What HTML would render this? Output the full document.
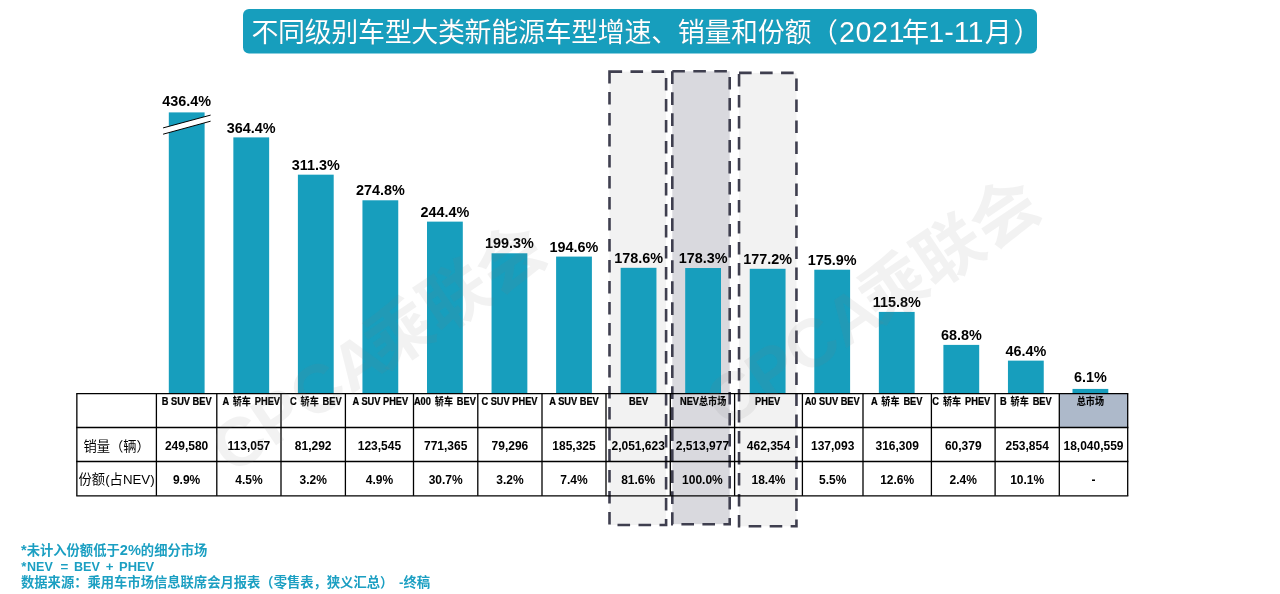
<!DOCTYPE html>
<html lang="zh-CN">
<head>
<meta charset="utf-8">
<title>不同级别车型大类新能源车型增速、销量和份额（2021年1-11月）</title>
<style>
html,body{margin:0;padding:0;background:#fff;}
body{width:1280px;height:594px;overflow:hidden;position:relative;font-family:"Liberation Sans","Noto Sans CJK SC",sans-serif;}
svg{position:absolute;left:0;top:0;display:block;}
.title{font-family:"Liberation Sans","Noto Sans CJK SC",sans-serif;font-size:27px;font-weight:400;fill:#fff;filter:drop-shadow(0.8px 0.8px 0.2px rgba(8,70,90,.6));}
.val{font-family:"Liberation Sans","Noto Sans CJK SC",sans-serif;font-size:14.4px;font-weight:700;fill:#000;text-anchor:middle;}
.hd{font-family:"Liberation Sans","Noto Sans CJK SC",sans-serif;font-size:10.3px;font-weight:700;fill:#000;text-anchor:middle;stroke:#000;stroke-width:0.25px;}
.hc{font-size:10.1px;stroke-width:0.1px;}
.num{font-family:"Liberation Sans","Noto Sans CJK SC",sans-serif;font-size:12px;font-weight:700;fill:#000;text-anchor:middle;}
.rl{font-family:"Liberation Sans","Noto Sans CJK SC",sans-serif;font-size:13.3px;font-weight:400;fill:#000;text-anchor:middle;}
.ft{font-family:"Liberation Sans","Noto Sans CJK SC",sans-serif;font-size:13.3px;font-weight:700;fill:#1B9FC2;}
.wm{font-family:"Liberation Sans","Noto Sans CJK SC",sans-serif;font-size:64px;font-weight:700;fill:#808080;fill-opacity:.1;text-anchor:middle;}
</style>
</head>
<body>
<svg width="1280" height="594" viewBox="0 0 1280 594">

<rect x="243" y="9" width="794" height="44.5" rx="6" ry="6" fill="#179EBD"/>
<text class="title" y="41.5"><tspan x="251.4" style="letter-spacing:-0.35px">不同级别车型大类新能源车型增速、销量和份额（</tspan><tspan x="838.9" style="font-size:28.7px;letter-spacing:0.6px">2021</tspan><tspan x="902.0">年</tspan><tspan x="928.2" style="font-size:28.7px">1-11</tspan><tspan x="984.8">月</tspan><tspan x="1013.5">）</tspan></text>
<rect x="609.50" y="71.60" width="56.60" height="453.40" fill="#F2F2F2" stroke="#3F3F4F" stroke-width="2.6" stroke-dasharray="12.6 8.4"/>
<rect x="672.30" y="71.30" width="57.40" height="452.90" fill="#D9D9DE" stroke="#3F3F4F" stroke-width="2.6" stroke-dasharray="12.6 8.4"/>
<rect x="739.05" y="72.90" width="57.40" height="453.40" fill="#F2F2F2" stroke="#3F3F4F" stroke-width="2.6" stroke-dasharray="12.6 8.4"/>
<rect x="1059.30" y="393.70" width="68.40" height="33.80" fill="#ADB9CA"/>
<rect x="168.80" y="112.40" width="35.80" height="280.80" fill="#179EBD"/>
<text class="val" x="186.70" y="105.80">436.4%</text>
<rect x="233.35" y="137.39" width="35.80" height="255.81" fill="#179EBD"/>
<text class="val" x="251.25" y="132.59">364.4%</text>
<rect x="297.90" y="174.67" width="35.80" height="218.53" fill="#179EBD"/>
<text class="val" x="315.80" y="169.87">311.3%</text>
<rect x="362.45" y="200.29" width="35.80" height="192.91" fill="#179EBD"/>
<text class="val" x="380.35" y="195.49">274.8%</text>
<rect x="427.00" y="221.63" width="35.80" height="171.57" fill="#179EBD"/>
<text class="val" x="444.90" y="216.83">244.4%</text>
<rect x="491.55" y="253.29" width="35.80" height="139.91" fill="#179EBD"/>
<text class="val" x="509.45" y="248.49">199.3%</text>
<rect x="556.10" y="256.59" width="35.80" height="136.61" fill="#179EBD"/>
<text class="val" x="574.00" y="251.79">194.6%</text>
<rect x="620.65" y="267.82" width="35.80" height="125.38" fill="#179EBD"/>
<text class="val" x="638.55" y="263.02">178.6%</text>
<rect x="685.20" y="268.03" width="35.80" height="125.17" fill="#179EBD"/>
<text class="val" x="703.10" y="263.23">178.3%</text>
<rect x="749.75" y="268.81" width="35.80" height="124.39" fill="#179EBD"/>
<text class="val" x="767.65" y="264.01">177.2%</text>
<rect x="814.30" y="269.72" width="35.80" height="123.48" fill="#179EBD"/>
<text class="val" x="832.20" y="264.92">175.9%</text>
<rect x="878.85" y="311.91" width="35.80" height="81.29" fill="#179EBD"/>
<text class="val" x="896.75" y="307.11">115.8%</text>
<rect x="943.40" y="344.90" width="35.80" height="48.30" fill="#179EBD"/>
<text class="val" x="961.30" y="340.10">68.8%</text>
<rect x="1007.95" y="360.63" width="35.80" height="32.57" fill="#179EBD"/>
<text class="val" x="1025.85" y="355.83">46.4%</text>
<rect x="1072.50" y="388.92" width="35.80" height="4.28" fill="#179EBD"/>
<text class="val" x="1090.40" y="381.92">6.1%</text>
<polygon points="163.1,127.9 210.6,115.1 210.6,121.2 163.1,134.2" fill="#fff"/>
<line x1="163.1" y1="127.9" x2="210.6" y2="115.1" stroke="#000" stroke-width="1"/>
<line x1="163.1" y1="134.2" x2="210.6" y2="121.2" stroke="#000" stroke-width="1"/>
<line x1="76.20" y1="393.70" x2="1128.35" y2="393.70" stroke="#000" stroke-width="1.3"/>
<line x1="76.20" y1="427.50" x2="1128.35" y2="427.50" stroke="#000" stroke-width="1.3"/>
<line x1="76.20" y1="461.50" x2="1128.35" y2="461.50" stroke="#000" stroke-width="1.3"/>
<line x1="76.20" y1="495.80" x2="1128.35" y2="495.80" stroke="#000" stroke-width="1.3"/>
<line x1="76.85" y1="393.70" x2="76.85" y2="495.80" stroke="#000" stroke-width="1.3"/>
<line x1="156.40" y1="393.70" x2="156.40" y2="495.80" stroke="#000" stroke-width="1.3"/>
<line x1="216.80" y1="393.70" x2="216.80" y2="495.80" stroke="#000" stroke-width="1.3"/>
<line x1="281.00" y1="393.70" x2="281.00" y2="495.80" stroke="#000" stroke-width="1.3"/>
<line x1="345.40" y1="393.70" x2="345.40" y2="495.80" stroke="#000" stroke-width="1.3"/>
<line x1="413.50" y1="393.70" x2="413.50" y2="495.80" stroke="#000" stroke-width="1.3"/>
<line x1="477.80" y1="393.70" x2="477.80" y2="495.80" stroke="#000" stroke-width="1.3"/>
<line x1="542.00" y1="393.70" x2="542.00" y2="495.80" stroke="#000" stroke-width="1.3"/>
<line x1="606.00" y1="393.70" x2="606.00" y2="495.80" stroke="#000" stroke-width="1.3"/>
<line x1="670.30" y1="393.70" x2="670.30" y2="495.80" stroke="#000" stroke-width="1.3"/>
<line x1="734.60" y1="393.70" x2="734.60" y2="495.80" stroke="#000" stroke-width="1.3"/>
<line x1="802.40" y1="393.70" x2="802.40" y2="495.80" stroke="#000" stroke-width="1.3"/>
<line x1="863.00" y1="393.70" x2="863.00" y2="495.80" stroke="#000" stroke-width="1.3"/>
<line x1="931.40" y1="393.70" x2="931.40" y2="495.80" stroke="#000" stroke-width="1.3"/>
<line x1="995.10" y1="393.70" x2="995.10" y2="495.80" stroke="#000" stroke-width="1.3"/>
<line x1="1059.30" y1="393.70" x2="1059.30" y2="495.80" stroke="#000" stroke-width="1.3"/>
<line x1="1127.70" y1="393.70" x2="1127.70" y2="495.80" stroke="#000" stroke-width="1.3"/>
<text class="hd" transform="translate(186.70,404.8) scale(0.9,1)" x="0" y="0">B SUV BEV</text>
<text class="num" x="186.60" y="449.5">249,580</text>
<text class="num" x="186.60" y="483.7">9.9%</text>
<text class="hd" style="word-spacing:1.5px" transform="translate(251.25,404.8) scale(0.9,1)" x="0" y="0">A <tspan class="hc">轿车</tspan> PHEV</text>
<text class="num" x="248.90" y="449.5">113,057</text>
<text class="num" x="248.90" y="483.7">4.5%</text>
<text class="hd" style="word-spacing:1.5px" transform="translate(315.80,404.8) scale(0.9,1)" x="0" y="0">C <tspan class="hc">轿车</tspan> BEV</text>
<text class="num" x="313.20" y="449.5">81,292</text>
<text class="num" x="313.20" y="483.7">3.2%</text>
<text class="hd" transform="translate(380.35,404.8) scale(0.9,1)" x="0" y="0">A SUV PHEV</text>
<text class="num" x="379.45" y="449.5">123,545</text>
<text class="num" x="379.45" y="483.7">4.9%</text>
<text class="hd" style="word-spacing:1.5px" transform="translate(444.90,404.8) scale(0.9,1)" x="0" y="0">A00 <tspan class="hc">轿车</tspan> BEV</text>
<text class="num" x="445.65" y="449.5">771,365</text>
<text class="num" x="445.65" y="483.7">30.7%</text>
<text class="hd" transform="translate(509.45,404.8) scale(0.9,1)" x="0" y="0">C SUV PHEV</text>
<text class="num" x="509.90" y="449.5">79,296</text>
<text class="num" x="509.90" y="483.7">3.2%</text>
<text class="hd" transform="translate(574.00,404.8) scale(0.9,1)" x="0" y="0">A SUV BEV</text>
<text class="num" x="574.00" y="449.5">185,325</text>
<text class="num" x="574.00" y="483.7">7.4%</text>
<text class="hd" transform="translate(638.55,404.8) scale(0.9,1)" x="0" y="0">BEV</text>
<text class="num" x="638.15" y="449.5">2,051,623</text>
<text class="num" x="638.15" y="483.7">81.6%</text>
<text class="hd" transform="translate(703.10,404.8) scale(0.9,1)" x="0" y="0">NEV<tspan class="hc">总市场</tspan></text>
<text class="num" x="702.45" y="449.5">2,513,977</text>
<text class="num" x="702.45" y="483.7">100.0%</text>
<text class="hd" transform="translate(767.65,404.8) scale(0.9,1)" x="0" y="0">PHEV</text>
<text class="num" x="768.50" y="449.5">462,354</text>
<text class="num" x="768.50" y="483.7">18.4%</text>
<text class="hd" transform="translate(832.20,404.8) scale(0.9,1)" x="0" y="0">A0 SUV BEV</text>
<text class="num" x="832.70" y="449.5">137,093</text>
<text class="num" x="832.70" y="483.7">5.5%</text>
<text class="hd" style="word-spacing:1.5px" transform="translate(896.75,404.8) scale(0.9,1)" x="0" y="0">A <tspan class="hc">轿车</tspan> BEV</text>
<text class="num" x="897.20" y="449.5">316,309</text>
<text class="num" x="897.20" y="483.7">12.6%</text>
<text class="hd" style="word-spacing:1.5px" transform="translate(961.30,404.8) scale(0.9,1)" x="0" y="0">C <tspan class="hc">轿车</tspan> PHEV</text>
<text class="num" x="963.25" y="449.5">60,379</text>
<text class="num" x="963.25" y="483.7">2.4%</text>
<text class="hd" style="word-spacing:1.5px" transform="translate(1025.85,404.8) scale(0.9,1)" x="0" y="0">B <tspan class="hc">轿车</tspan> BEV</text>
<text class="num" x="1027.20" y="449.5">253,854</text>
<text class="num" x="1027.20" y="483.7">10.1%</text>
<text class="hd" transform="translate(1090.40,404.8) scale(0.9,1)" x="0" y="0"><tspan class="hc">总市场</tspan></text>
<text class="num" x="1093.50" y="449.5">18,040,559</text>
<text class="num" x="1093.50" y="483.7">-</text>
<text class="rl" x="116.62" y="451.0">销量（辆）</text>
<text class="rl" x="116.62" y="484.3">份额(占NEV)</text>
<text class="ft" x="21.0" y="555.0"><tspan style="font-size:14.6px">*</tspan>未计入份额低于<tspan style="font-size:14.6px">2%</tspan>的细分市场</text>
<text class="ft" y="571"><tspan x="21.3">*</tspan><tspan x="27.1" style="font-size:12.5px">NEV</tspan> <tspan x="60.4">=</tspan> <tspan x="74.0" style="font-size:12.6px">BEV</tspan> <tspan x="105.8">+</tspan> <tspan x="119.0" style="font-size:12.95px">PHEV</tspan></text>
<text class="ft" x="21" y="586.8">数据来源：乘用车市场信息联席会月报表（零售表，狭义汇总） <tspan dx="2">-终稿</tspan></text>
<text class="wm" style="text-anchor:end" transform="translate(380.5,347.1) rotate(-34)" x="190.6" y="23"><tspan style="font-size:68px">CPCA</tspan><tspan style="font-size:67px" dx="-8">乘联会</tspan></text>
<text class="wm" style="text-anchor:end" transform="translate(874.5,301.5) rotate(-34)" x="190.6" y="23"><tspan style="font-size:68px">CPCA</tspan><tspan style="font-size:67px" dx="-8">乘联会</tspan></text>
</svg>
</body>
</html>
